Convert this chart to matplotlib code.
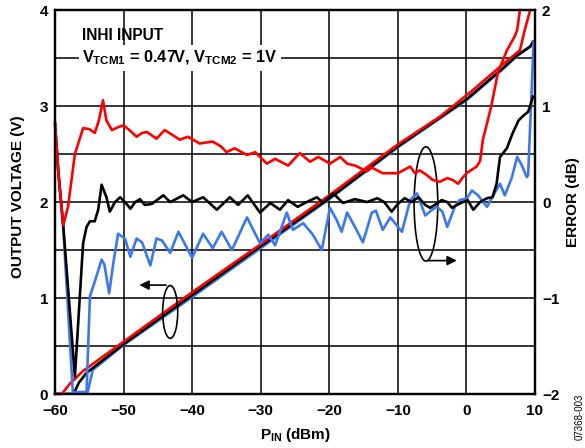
import numpy as np
import matplotlib
matplotlib.use('Agg')
import matplotlib.pyplot as plt
from matplotlib.patches import Ellipse

plt.rcParams['font.family'] = ['Liberation Sans', 'DejaVu Sans']
plt.rcParams['font.weight'] = 'bold'
plt.rcParams['mathtext.fontset'] = 'custom'
plt.rcParams['mathtext.rm'] = 'Liberation Sans:bold'
plt.rcParams['mathtext.it'] = 'Liberation Sans:bold'
plt.rcParams['mathtext.bf'] = 'Liberation Sans:bold'

# output voltage (V) vs P_IN (dBm)
red_out_p = [-60, -59.0, -57.8, -55.9, -50, -40, -30, -20, -10, -3.85, 1.0, 5.4, 7.8, 8.5, 9.3]
red_out_v = [0.0, 0.0, 0.11, 0.24, 0.545, 1.06, 1.56, 2.07, 2.6, 2.89, 3.17, 3.44, 3.58, 3.79, 4.0]
blk_out_p = [-60, -57.3, -56.5, -55.4, -50, -40, -30, -20, -10, 0, 5.4, 7.4, 9.3, 9.7]
blk_out_v = [0.0, 0.0, 0.12, 0.22, 0.52, 1.03, 1.54, 2.04, 2.58, 3.07, 3.40, 3.53, 3.62, 3.67]
blu_out_p = [-60, -55.3, -54.5, -50, -40, -30, -20, -10, 0, 5.4, 7.4, 9.3, 10]
blu_out_v = [0.0, 0.0, 0.25, 0.51, 1.01, 1.52, 2.03, 2.57, 3.06, 3.39, 3.52, 3.62, 3.69]

# error (dB) vs P_IN (dBm)
red_err_p = [-60, -59.5, -58.8, -58.1, -57.1, -55.9, -55.0, -54.2, -53.6, -53.0, -52.5, -51.7, -50.8,
             -50.0, -49.0, -48.1, -47.3, -46.6, -45.2, -44.0, -42.9, -41.8, -40.6, -38.9, -37.0, -35.8,
             -35.0, -33.8, -32.0, -30.8, -29.1, -27.9, -26.0, -24.3, -22.8, -21.6, -19.9, -18.4, -17.4,
             -16.25, -14.5, -13.8, -12.2, -10.0, -8.2, -7.5, -6.8, -5.75, -4.9, -3.9, -2.8, -2.0, -1.2,
             -0.5, 0.2, 1.5, 2.0, 2.4, 3.0, 3.6, 4.6, 5.9, 7.0, 7.4, 7.8]
red_err = [0.82, 0.3, -0.24, -0.05, 0.5, 0.77, 0.76, 0.72, 0.85, 1.06, 0.85, 0.75, 0.78,
           0.80, 0.74, 0.68, 0.72, 0.73, 0.66, 0.75, 0.70, 0.65, 0.68, 0.61, 0.63, 0.58,
           0.52, 0.56, 0.49, 0.52, 0.40, 0.45, 0.38, 0.51, 0.42, 0.47, 0.40, 0.47, 0.40,
           0.38, 0.32, 0.36, 0.30, 0.30, 0.37, 0.30, 0.33, 0.28, 0.23, 0.21, 0.25, 0.23, 0.19,
           0.26, 0.31, 0.37, 0.43, 0.65, 0.82, 0.99, 1.35, 1.58, 1.72, 1.79, 2.0]

blk_err_p = [-60, -59.5, -58.8, -57.1, -55.9, -55.4, -54.9, -54.2, -53.7, -53.2, -52.5, -52.0, -51.25,
             -50.5, -49.8, -49.0, -48.3, -47.6, -46.9, -45.9, -44.2, -43.2, -41.3, -40.0, -38.4, -36.4,
             -34.5, -33.3, -31.9, -30.1, -28.6, -27.2, -26.0, -24.6, -23.3, -21.8, -20.9, -19.4, -18.0,
             -16.25, -14.5, -13.0, -12.0, -10.9, -10.0, -9.0, -8.0, -7.0, -6.0, -5.3, -4.4, -3.6, -2.8,
             -2.1, -1.4, -0.5, 0.2, 1.0, 2.0, 3.0, 3.8, 4.4, 4.9, 5.9, 6.7, 7.6, 8.3, 9.0, 9.3, 9.7]
blk_err = [0.82, 0.3, -0.24, -1.82, -0.43, -0.26, -0.2, -0.2, -0.08, 0.18, 0.05, -0.1, 0.0,
           0.05, 0.0, -0.07, 0.0, 0.03, -0.03, -0.02, 0.07, 0.0, 0.07, 0.0, 0.05, -0.08,
           0.05, -0.03, 0.07, -0.11, -0.01, -0.08, 0.02, -0.05, 0.0, 0.05, -0.01, 0.09, -0.01,
           0.03, 0.0, 0.04, 0.0, -0.1, -0.02, 0.04, 0.0, 0.05, -0.03, -0.06, -0.02, 0.02, 0.0,
           -0.06, -0.03, 0.0, 0.02, -0.08, 0.0, 0.04, 0.05, 0.19, 0.47, 0.56, 0.71, 0.85, 0.9, 0.94, 1.0, 1.1]

blu_err_p = [-60, -59.5, -58.8, -57.4, -55.4, -54.9, -54.2, -53.2, -52.8, -52.1, -51.5, -50.8, -49.8,
             -49.0, -48.1, -47.3, -46.1, -45.2, -44.4, -43.2, -42.0, -40.0, -38.4, -37.0, -35.7, -34.2,
             -32.0, -30.1, -28.9, -27.9, -26.2, -25.3, -23.8, -22.4, -21.1, -19.9, -18.9, -18.2, -17.4,
             -16.25, -15.1, -13.8, -13.2, -12.2, -11.1, -9.4, -8.2, -7.2, -6.0, -5.0, -4.3, -3.5, -2.8,
             -1.7, -1.0, 0.1, 0.8, 1.7, 3.0, 4.0, 4.9, 5.6, 6.6, 7.4, 8.1, 8.8, 9.0, 9.8]
blu_err = [0.82, 0.3, -0.26, -1.98, -1.98, -0.98, -0.83, -0.6, -0.65, -0.95, -0.64, -0.33, -0.38,
           -0.57, -0.38, -0.42, -0.66, -0.38, -0.40, -0.53, -0.31, -0.58, -0.33, -0.48, -0.31, -0.5,
           -0.16, -0.43, -0.34, -0.45, -0.11, -0.29, -0.22, -0.34, -0.5, -0.06, -0.19, -0.31, -0.11,
           -0.26, -0.42, -0.11, -0.09, -0.29, -0.16, -0.31, 0.02, 0.09, -0.14, -0.08, -0.05, -0.1, -0.26,
           -0.05, 0.02, 0.04, 0.12, 0.07, -0.05, 0.08, 0.19, 0.07, 0.25, 0.47, 0.38, 0.26, 0.28, 1.67]

x_ticks = [-60, -50, -40, -30, -20, -10, 0, 10]
RED = '#ff0000'
BLUE = '#3b78f0'
LW = 1.9
FS = 11

fig = plt.figure(figsize=(5.85, 4.48), dpi=100)
ax = fig.add_axes([0.094, 0.1205, 0.8205, 0.857])
ax2 = ax.twinx()

ax.set_xlim(-60, 10)
ax.set_ylim(0, 4)
ax2.set_ylim(-2, 2)

ax.set_xticks(x_ticks)
ax.set_xticklabels([f'{t:d}'.replace('-', '\u2212') for t in x_ticks])
ax.set_yticks(np.arange(0, 4.01, 0.5))
ax.set_yticklabels(['0', '', '1', '', '2', '', '3', '', '4'])
ax2.set_yticks([-2, -1, 0, 1, 2])
ax2.set_yticklabels(['\u22122', '\u22121', '0', '1', '2'])

ax.grid(True, color='black', linewidth=1.1)
ax.set_axisbelow(True)
ax.tick_params(axis='both', length=0, labelsize=FS)
ax.tick_params(axis='x', pad=7)
ax.tick_params(axis='y', pad=5)
ax2.tick_params(axis='y', length=0, labelsize=FS, pad=5)
for a in (ax, ax2):
    for s in a.spines.values():
        s.set_linewidth(1.6)

# output voltage curves
ax.plot(blu_out_p, blu_out_v, color=BLUE, lw=LW, zorder=3)
ax.plot(blk_out_p, blk_out_v, color='black', lw=LW, zorder=3)
ax.plot(red_out_p, red_out_v, color=RED, lw=LW, zorder=3, clip_on=False)

# error curves
ax2.plot(blu_err_p, blu_err, color=BLUE, lw=LW, clip_on=False)
ax2.plot(blk_err_p, blk_err, color='black', lw=LW)
ax2.plot(red_err_p, red_err, color=RED, lw=LW, clip_on=False)

# ellipses with arrows
ax.add_patch(Ellipse((-43.2, 0.855), 2.2, 0.55, fill=False, edgecolor='black', lw=1.2, zorder=4))
ax.annotate('', xy=(-48.1, 1.135), xytext=(-43.4, 1.135),
            arrowprops=dict(arrowstyle='-|>', color='black', lw=1.2, mutation_scale=14), zorder=4)
ax.add_patch(Ellipse((-5.9, 1.98), 3.45, 1.19, fill=False, edgecolor='black', lw=1.2, zorder=4))
ax.annotate('', xy=(-1.0, 1.39), xytext=(-6.0, 1.39),
            arrowprops=dict(arrowstyle='-|>', color='black', lw=1.2, mutation_scale=14), zorder=4)

# legend text
ax.text(-56.0, 3.74, 'INHI INPUT', fontsize=11.2, fontweight='bold', va='center', ha='left', zorder=5)
ax.text(-56.0, 3.5, r'$V_{TCM1}$ = 0.47V, $V_{TCM2}$ = 1V', fontsize=11.8, fontweight='bold',
        va='center', ha='left', zorder=5,
        bbox=dict(facecolor='white', edgecolor='none', pad=2.5))

# axis titles
fig.text(295 / 585, 1 - 435 / 448, r'$P_{IN}$ (dBm)', fontsize=FS, fontweight='bold',
         ha='center', va='center')
fig.text(18 / 585, 1 - 197 / 448, 'OUTPUT VOLTAGE (V)', fontsize=FS, fontweight='bold',
         rotation=90, ha='center', va='center')
fig.text(573 / 585, 1 - 202 / 448, 'ERROR (dB)', fontsize=FS, fontweight='bold',
         rotation=90, ha='center', va='center')

fig.text(580 / 585, 1 - 417 / 448, '07368-003', fontsize=7, fontweight='normal', rotation=90,
         ha='center', va='center')

fig.savefig('out.png', dpi=100)
